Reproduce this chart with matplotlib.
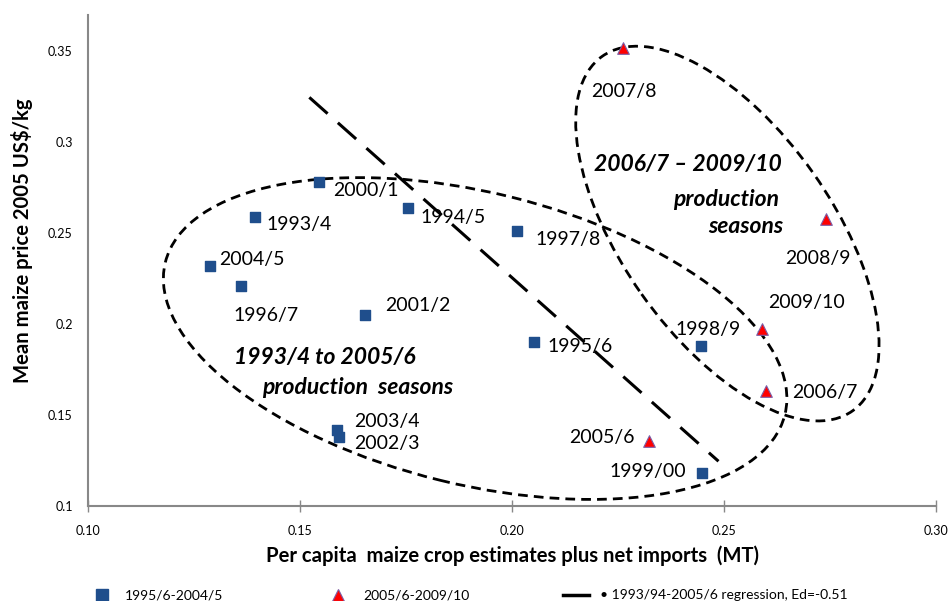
import matplotlib
matplotlib.use("Agg")
import matplotlib.pyplot as plt
import matplotlib.transforms as mtransforms
from matplotlib.patches import Ellipse
from matplotlib.lines import Line2D

plt.rcParams["font.family"] = ["Lato", "DejaVu Sans"]

# season 1995/6-2004/5 group (squares)
sq_labels = ["2000/1", "1993/4", "1994/5", "2004/5", "1996/7", "1997/8", "2001/2",
             "1995/6", "1998/9", "2003/4", "2002/3", "1999/00"]
sq_x = [0.1544, 0.1395, 0.1755, 0.1287, 0.1362, 0.2011, 0.1653,
        0.2053, 0.2445, 0.1588, 0.1593, 0.2448]
sq_y = [0.278, 0.259, 0.264, 0.232, 0.221, 0.251, 0.205,
        0.190, 0.188, 0.142, 0.138, 0.118]

# season 2005/6-2009/10 group (triangles)
tri_labels = ["2007/8", "2008/9", "2009/10", "2006/7", "2005/6"]
tri_x = [0.2261, 0.2740, 0.2589, 0.2599, 0.2324]
tri_y = [0.352, 0.258, 0.1975, 0.163, 0.136]

# regression line end points
reg_x = [0.1522, 0.2487]
reg_y = [0.3247, 0.1246]

# label offsets in pixels (dx, dy, ha)
sq_offsets = [(14, -8, "left"), (11, -8, "left"), (12, -10, "left"), (9, 6, "left"),
              (-8, -30, "left"), (19, -8, "left"), (20, 10, "left"), (13, -4, "left"),
              (7, 16, "center"), (17, 8, "left"), (15, -7, "left"), (-16, 2, "right")]
tri_offsets = [(1, -44, "center"), (-8, -40, "center"), (6, 26, "left"),
               (26, -1, "left"), (-15, 3, "right")]

navy = "#1F4E8C"
red = "#FF0000"

fig = plt.figure(figsize=(9.49, 6.01), dpi=100)
ax = fig.add_axes([88 / 949, 95 / 601, 848 / 949, 491 / 601])

ax.scatter(sq_x, sq_y, marker="s", s=55, color=navy, zorder=3)
ax.scatter(tri_x, tri_y, marker="^", s=70, color=red, edgecolors="#7B5EA7",
           linewidths=0.8, zorder=3)
ax.plot(reg_x, reg_y, color="black", lw=2.2, dashes=(8, 4.5), zorder=2)

for lab, x, y, (dx, dy, ha) in zip(sq_labels, sq_x, sq_y, sq_offsets):
    ax.annotate(lab, (x, y), xytext=(dx, dy), textcoords="offset pixels",
                ha=ha, va="center", fontsize=14)
for lab, x, y, (dx, dy, ha) in zip(tri_labels, tri_x, tri_y, tri_offsets):
    ax.annotate(lab, (x, y), xytext=(dx, dy), textcoords="offset pixels",
                ha=ha, va="center", fontsize=14)

# dashed ellipses drawn in inches around a data centre
for cx, cy, w, h, ang in [(0.1913, 0.1921, 6.38, 2.92, -13.8),
                          (0.2508, 0.2498, 4.34, 2.10, -54.8)]:
    trans = fig.dpi_scale_trans + mtransforms.ScaledTranslation(cx, cy, ax.transData)
    ax.add_patch(Ellipse((0, 0), w, h, angle=ang, transform=trans, fill=False,
                         ec="black", lw=2.0, ls=(0, (3.5, 2.2)), zorder=2))

bi = dict(fontsize=16.5, fontweight="bold", style="italic", va="center")
ax.text(0.1558, 0.1815, "1993/4 to 2005/6", ha="center", **bi)
ax.text(0.1636, 0.1650, "production  seasons", ha="center", **bi)
ax.text(0.2636, 0.2877, "2006/7 – 2009/10", ha="right", **bi)
ax.text(0.2629, 0.2685, "production", ha="right", **bi)
ax.text(0.2640, 0.2537, "seasons", ha="right", **bi)

ax.set_xlim(0.10, 0.30)
ax.set_ylim(0.10, 0.37)
ax.set_xticks([0.10, 0.15, 0.20, 0.25, 0.30])
ax.set_xticklabels(["0.10", "0.15", "0.20", "0.25", "0.30"])
ax.set_yticks([0.10, 0.15, 0.20, 0.25, 0.30, 0.35])
ax.set_yticklabels(["0.1", "0.15", "0.2", "0.25", "0.3", "0.35"])
ax.tick_params(axis="x", direction="inout", length=8, width=1, color="#888888",
               labelsize=9, pad=10)
ax.tick_params(axis="y", length=0, labelsize=9, pad=11)
for s in ["top", "right"]:
    ax.spines[s].set_visible(False)
for s in ["left", "bottom"]:
    ax.spines[s].set_color("#888888")
    ax.spines[s].set_linewidth(1.5)

ax.set_xlabel("Per capita  maize crop estimates plus net imports  (MT)",
              fontsize=14.6, fontweight="bold", labelpad=6)
fig.text(22 / 949, 1 - 241 / 601, "Mean maize price 2005 US$/kg", rotation=90,
         fontsize=14.6, fontweight="bold", ha="center", va="center")

# legend drawn along the bottom edge
fy = 1 - 595 / 601
fig.add_artist(Line2D([102 / 949], [fy], marker="s", ms=8, color=navy, ls="none"))
fig.text(125 / 949, fy, "1995/6-2004/5", fontsize=10, va="center")
fig.add_artist(Line2D([338 / 949], [fy], marker="^", ms=8, color=red,
                      mec="#7B5EA7", mew=0.8, ls="none"))
fig.text(363 / 949, fy, "2005/6-2009/10", fontsize=10, va="center")
fig.add_artist(Line2D([563 / 949, 589 / 949], [fy, fy], color="black", lw=2.5))
fig.text(600 / 949, fy, "• 1993/94-2005/6 regression, Ed=-0.51", fontsize=10, va="center")

fig.savefig("out.png", dpi=100)
